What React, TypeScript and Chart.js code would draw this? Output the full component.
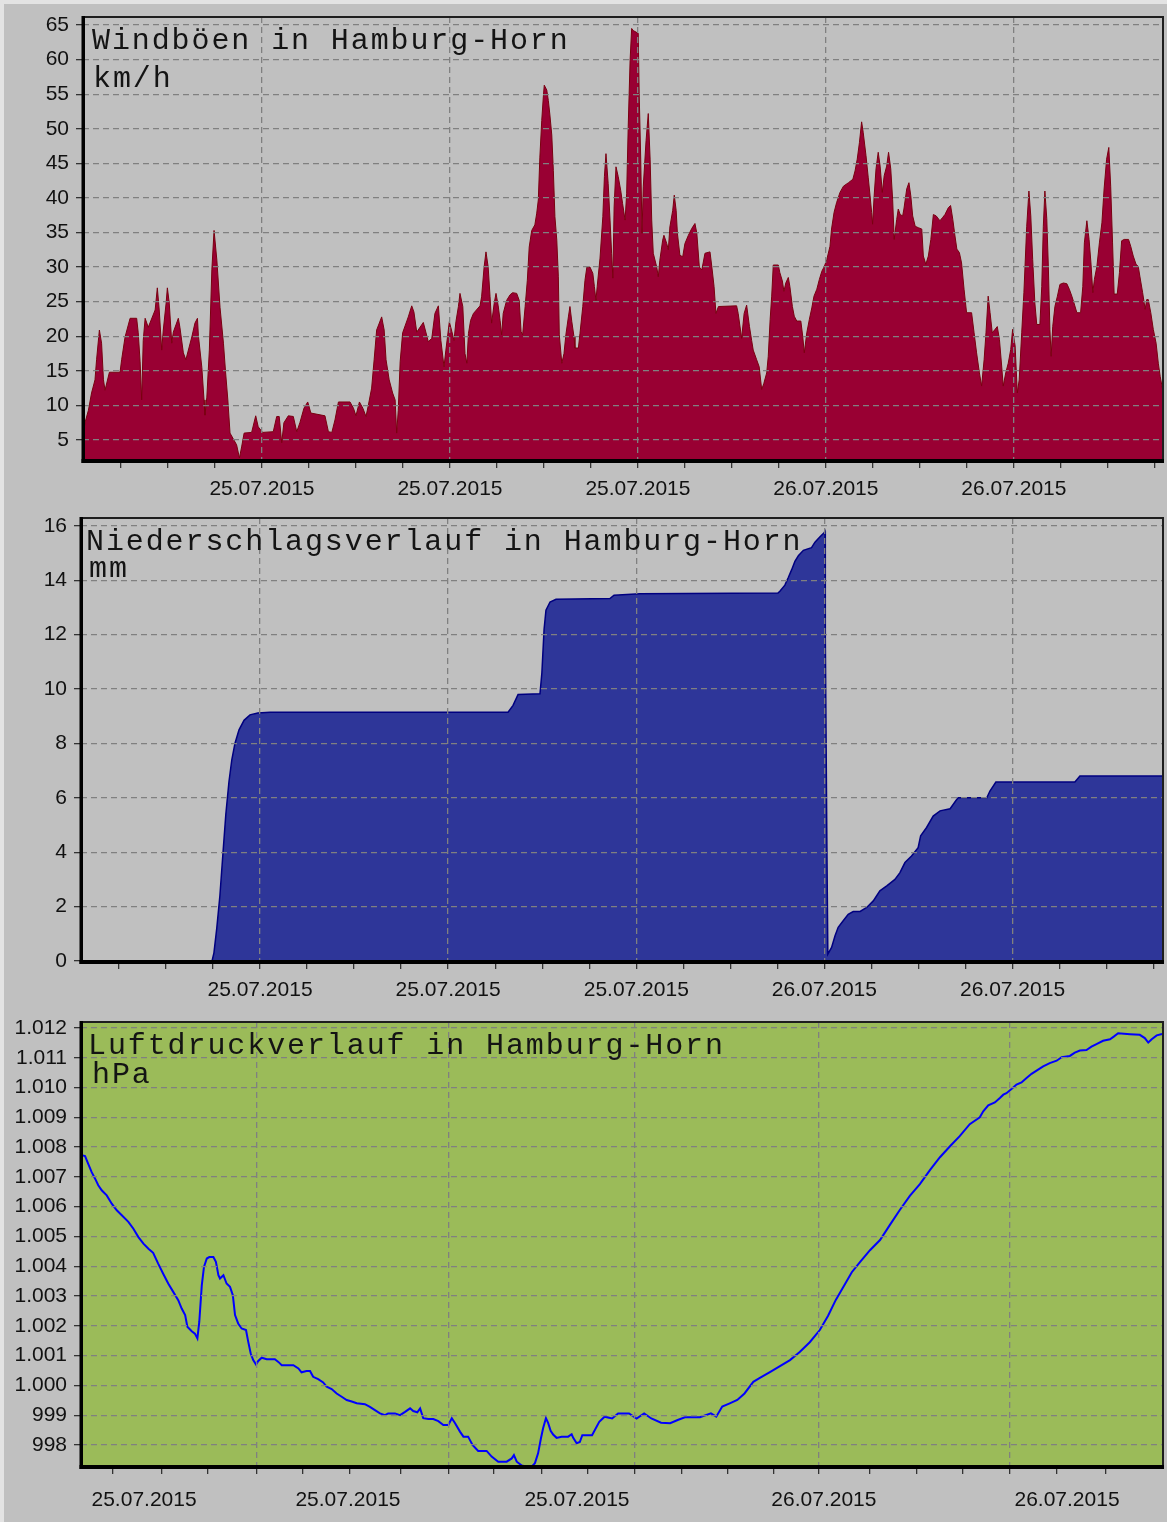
import React, { useEffect, useRef } from 'react';
import { Chart, registerables } from 'chart.js';

Chart.register(...registerables);

// ---------- data (x = hours since 25.07.2015 00:00) ----------
const windGusts: [number, number][] = [
  [0.29,5.5],[0.35,7.5],[0.46,9.3],[0.56,11.8],[0.67,13.7],[0.72,16.6],[0.81,20.9],[0.88,19],[0.94,13.7],[0.99,12.2],
  [1.13,14.8],[1.47,14.8],[1.52,16.6],[1.63,19.9],[1.79,22.6],[2.00,22.6],[2.05,20.5],[2.11,16.3],[2.16,10.8],[2.21,19.4],
  [2.27,22.6],[2.37,21.3],[2.59,23.8],[2.66,27],[2.72,23.8],[2.80,18],[2.85,20.9],[2.94,24.8],[2.98,27],[3.04,24.8],
  [3.12,19],[3.17,20.6],[3.33,22.6],[3.38,21.3],[3.49,17.6],[3.57,16.6],[3.76,19.9],[3.86,21.9],[3.94,22.6],[3.97,20.1],
  [4.08,15.5],[4.15,10.8],[4.18,8.6],[4.24,11.2],[4.32,18],[4.40,29.6],[4.47,35.3],[4.56,31],[4.66,24.2],[4.77,19],
  [4.84,14.7],[4.91,10.8],[4.98,6],[5.19,4.3],[5.28,2.4],[5.35,4],[5.43,6],[5.67,6.1],[5.80,8.5],[5.88,6.9],
  [6.02,6.1],[6.36,6.2],[6.47,8.4],[6.55,8.4],[6.63,4.6],[6.70,7.5],[6.84,8.5],[7.00,8.4],[7.11,6.2],[7.21,7.5],
  [7.34,9.6],[7.46,10.5],[7.56,8.9],[8.01,8.5],[8.12,6.2],[8.23,6.1],[8.33,7.9],[8.44,10.5],[8.81,10.5],[8.92,9.6],
  [9.00,8.5],[9.11,10.5],[9.22,9.6],[9.32,8.4],[9.39,9.9],[9.50,12.5],[9.58,16.6],[9.66,20.9],[9.82,22.8],[9.90,20.9],
  [9.96,16.6],[10.06,13.7],[10.17,11.8],[10.25,10.8],[10.30,6],[10.35,9.3],[10.41,16.3],[10.49,20.5],[10.67,22.8],[10.78,24.4],
  [10.85,23.5],[10.94,20.6],[11.15,22],[11.31,19.2],[11.42,19.7],[11.52,23.3],[11.63,24.4],[11.71,19.4],[11.81,15.6],[11.87,18],
  [11.98,22.1],[12.06,20.7],[12.13,19.4],[12.19,22.1],[12.27,24.3],[12.32,26.2],[12.41,24.3],[12.48,17.5],[12.54,16.1],[12.59,20.4],
  [12.66,22.3],[12.75,23.3],[12.96,24.4],[13.01,25.7],[13.09,30],[13.15,32.2],[13.22,30],[13.28,25.7],[13.33,21.9],[13.41,24.7],
  [13.47,26.2],[13.54,24.4],[13.60,22.3],[13.65,20.2],[13.70,23.3],[13.81,25.2],[13.92,26],[14.00,26.3],[14.13,26.2],[14.21,25.2],
  [14.27,20.7],[14.32,20.2],[14.40,24.3],[14.47,28.1],[14.53,32.9],[14.61,35.3],[14.71,36.1],[14.77,37.8],[14.82,39.7],[14.87,45.9],
  [14.93,51.2],[14.98,54.6],[15.01,56.3],[15.09,55.6],[15.14,54.1],[15.19,52],[15.25,49.1],[15.30,44],[15.35,37.3],[15.41,33.9],
  [15.46,28.6],[15.49,20.2],[15.57,16.1],[15.64,17.5],[15.70,20.2],[15.78,22.8],[15.83,24.3],[15.89,22.1],[15.96,19.9],[15.99,18.3],
  [16.10,18.3],[16.15,20.4],[16.24,24.3],[16.31,28.1],[16.37,30],[16.47,30],[16.56,29.1],[16.61,27.2],[16.66,25.2],[16.70,27.2],
  [16.79,31.3],[16.88,37.3],[16.93,43.1],[16.98,46.4],[17.05,42.1],[17.11,36.8],[17.16,32],[17.20,28.4],[17.24,38.7],[17.30,44.5],
  [17.37,43.1],[17.45,41.1],[17.51,39.2],[17.59,36.8],[17.64,40.6],[17.69,50.3],[17.75,59.9],[17.80,64.5],[17.85,64.2],[18.01,63.8],
  [18.04,55.1],[18.09,45.5],[18.13,34.9],[18.17,41.6],[18.26,48.3],[18.33,52.2],[18.39,45.5],[18.44,36.8],[18.49,32],[18.60,30],
  [18.65,28.6],[18.70,31],[18.79,33.9],[18.83,34.6],[18.92,33.4],[18.97,32.5],[19.02,35.8],[19.11,38.2],[19.16,40.4],[19.22,38.2],
  [19.26,34.9],[19.34,31.7],[19.43,31.5],[19.50,33.4],[19.61,34.6],[19.72,35.6],[19.82,36.3],[19.88,34.9],[19.96,30],[20.04,29.6],
  [20.14,32],[20.30,32.2],[20.36,30],[20.43,27.2],[20.49,23.3],[20.57,24.3],[21.15,24.4],[21.20,23.3],[21.31,19.7],[21.39,23.3],
  [21.47,24.5],[21.56,21.4],[21.63,19.4],[21.68,18],[21.79,16.6],[21.87,15.6],[21.95,12.3],[22.02,13.2],[22.11,14.7],[22.16,17.1],
  [22.22,22.4],[22.27,25.8],[22.32,30.3],[22.48,30.3],[22.53,29.2],[22.61,28],[22.66,26.5],[22.72,27.7],[22.80,28.5],[22.85,27.2],
  [22.93,24.3],[22.99,22.9],[23.07,22.2],[23.20,22.2],[23.26,20],[23.31,17.6],[23.39,20.5],[23.47,22.4],[23.55,24.1],[23.62,25.8],
  [23.71,26.8],[23.79,28.2],[23.87,29.4],[23.95,30.1],[24.03,31.1],[24.13,33],[24.18,35.5],[24.26,37.9],[24.34,39.3],[24.45,40.8],
  [24.56,41.7],[24.72,42.2],[24.86,42.7],[24.93,43.9],[25.00,45.6],[25.07,48],[25.14,51],[25.19,49.5],[25.28,46.1],[25.35,43],
  [25.41,40.3],[25.46,37.9],[25.49,36.2],[25.54,40.3],[25.60,44.2],[25.67,46.6],[25.73,44.6],[25.80,40.8],[25.86,43.2],[25.94,44.6],
  [26.00,46.6],[26.07,44.2],[26.13,39.8],[26.18,34],[26.26,36.9],[26.31,38.4],[26.37,37.6],[26.45,37.4],[26.49,38.4],[26.58,41.3],
  [26.65,42.2],[26.71,40.3],[26.77,37.4],[26.85,35.9],[26.95,35.7],[27.06,35.5],[27.11,31.6],[27.19,30.4],[27.27,31.6],[27.35,34],
  [27.43,37.6],[27.52,37.4],[27.64,36.7],[27.73,37.2],[27.80,37.6],[27.91,38.6],[27.98,38.9],[28.05,36.9],[28.12,34.5],[28.18,32.6],
  [28.26,32.1],[28.33,30.6],[28.41,26.8],[28.49,23.4],[28.65,23.4],[28.73,20.5],[28.81,17.6],[28.90,14.7],[28.97,12.8],[29.05,16.6],
  [29.11,20.5],[29.18,25.8],[29.24,23.4],[29.31,20.5],[29.40,21],[29.47,21.4],[29.54,19.5],[29.61,15.7],[29.66,12.8],[29.74,14.7],
  [29.82,16.1],[29.90,18.1],[29.96,21],[30.04,18.6],[30.11,11.8],[30.17,13.7],[30.25,20.5],[30.32,26.3],[30.41,35.9],[30.48,41],
  [30.54,37.4],[30.60,31.1],[30.67,24.8],[30.73,21.7],[30.83,21.7],[30.89,27.2],[30.94,35.9],[30.99,41],[31.05,37],[31.10,30.1],
  [31.15,21],[31.19,17.1],[31.24,21.4],[31.31,24.3],[31.39,25.8],[31.47,27.5],[31.58,27.7],[31.69,27.6],[31.77,26.8],[31.85,25.8],
  [31.92,24.8],[32.01,23.4],[32.13,23.4],[32.20,27.2],[32.25,33.5],[32.33,36.7],[32.40,34],[32.46,30.6],[32.52,26.3],[32.57,28.2],
  [32.65,30.1],[32.73,33.5],[32.81,36.4],[32.88,41.3],[32.96,45.6],[33.03,47.3],[33.09,41.7],[33.15,33.5],[33.20,26.1],[33.30,26.1],
  [33.37,29.2],[33.44,33.8],[33.52,34],[33.66,34],[33.73,33],[33.81,31.6],[33.90,30.4],[33.97,30.1],[34.02,28.7],[34.11,26.3],
  [34.19,23.9],[34.24,25.3],[34.29,25.3],[34.37,23.4],[34.45,21],[34.54,19],[34.61,16.1],[34.67,14.2],[34.76,12]
];

const rainTotal: [number, number][] = [
  [0.29,0],[4.47,0],[4.53,0.3],[4.62,1.2],[4.72,2.4],[4.82,4.0],[4.91,5.4],[5.01,6.6],[5.10,7.4],[5.20,8.0],
  [5.33,8.5],[5.49,8.85],[5.68,9.05],[5.93,9.12],[6.32,9.15],[13.91,9.15],[14.07,9.4],[14.23,9.8],[14.93,9.83],[14.99,10.6],
  [15.06,12.2],[15.12,12.9],[15.25,13.2],[15.44,13.3],[17.16,13.33],[17.29,13.45],[18.12,13.5],[22.52,13.53],[22.58,13.6],[22.74,13.82],
  [22.85,14.1],[22.96,14.4],[23.06,14.7],[23.17,14.9],[23.33,15.1],[23.59,15.2],[23.70,15.4],[23.86,15.6],[23.99,15.75],[24.02,15.8],
  [24.03,11.9],[24.08,4.2],[24.11,0.25],[24.23,0.5],[24.34,0.93],[24.44,1.24],[24.60,1.48],[24.76,1.72],[24.92,1.82],[25.14,1.82],
  [25.35,1.97],[25.56,2.21],[25.77,2.58],[25.99,2.76],[26.25,3.0],[26.41,3.25],[26.57,3.62],[26.78,3.86],[26.99,4.17],[27.07,4.6],
  [27.26,4.91],[27.47,5.33],[27.69,5.52],[28.01,5.6],[28.22,5.94],[28.27,6.0],[29.18,6.0],[29.28,6.25],[29.47,6.58],[31.99,6.58],
  [32.15,6.8],[34.80,6.8]
];

const pressure: [number, number][] = [
  [0.39,1007.74],[0.52,1007.7],[0.62,1007.44],[0.73,1007.16],[0.84,1006.94],[0.94,1006.72],[1.05,1006.55],[1.21,1006.38],[1.37,1006.1],[1.53,1005.88],
  [1.69,1005.71],[1.90,1005.49],[2.06,1005.26],[2.22,1004.98],[2.38,1004.76],[2.54,1004.59],[2.69,1004.45],[2.85,1004.09],[3.01,1003.75],[3.17,1003.42],
  [3.33,1003.14],[3.49,1002.86],[3.60,1002.58],[3.71,1002.36],[3.78,1001.97],[3.92,1001.82],[4.02,1001.74],[4.10,1001.58],[4.16,1002.13],[4.24,1003.36],
  [4.31,1003.98],[4.40,1004.26],[4.48,1004.31],[4.61,1004.31],[4.69,1004.15],[4.77,1003.7],[4.82,1003.59],[4.93,1003.7],[5.03,1003.42],[5.14,1003.31],
  [5.23,1003.03],[5.30,1002.36],[5.40,1002.08],[5.51,1001.91],[5.65,1001.86],[5.72,1001.47],[5.80,1001.07],[5.88,1000.85],[5.97,1000.7],[6.04,1000.82],
  [6.15,1000.93],[6.31,1000.88],[6.57,1000.88],[6.68,1000.79],[6.79,1000.68],[7.16,1000.68],[7.32,1000.57],[7.42,1000.44],[7.58,1000.48],[7.69,1000.48],
  [7.79,1000.29],[7.95,1000.21],[8.11,1000.1],[8.22,999.96],[8.38,999.88],[8.54,999.73],[8.70,999.62],[8.86,999.51],[9.02,999.46],[9.18,999.4],
  [9.44,999.37],[9.60,999.28],[9.76,999.17],[9.92,999.06],[10.08,999.0],[10.18,999.06],[10.40,999.06],[10.56,999.0],[10.72,999.11],[10.88,999.23],
  [10.98,999.14],[11.11,999.1],[11.20,999.23],[11.30,998.9],[11.46,998.87],[11.62,998.87],[11.78,998.8],[11.94,998.67],[12.10,998.67],[12.21,998.9],
  [12.31,998.74],[12.47,998.45],[12.58,998.28],[12.73,998.28],[12.87,998.0],[13.05,997.8],[13.32,997.8],[13.48,997.61],[13.69,997.44],[13.96,997.44],
  [14.12,997.55],[14.19,997.66],[14.28,997.44],[14.44,997.31],[14.60,997.27],[14.75,997.27],[14.86,997.39],[14.96,997.72],[15.05,998.22],[15.12,998.56],
  [15.21,998.9],[15.28,998.74],[15.36,998.48],[15.44,998.35],[15.55,998.24],[15.71,998.28],[15.92,998.28],[16.03,998.36],[16.08,998.24],[16.19,998.06],
  [16.29,998.1],[16.37,998.33],[16.68,998.33],[16.91,998.78],[17.08,998.95],[17.32,998.89],[17.51,999.06],[17.86,999.06],[18.10,998.89],[18.34,999.06],
  [18.57,998.89],[18.88,998.75],[19.17,998.73],[19.41,998.84],[19.64,998.93],[20.12,998.93],[20.47,999.06],[20.64,998.95],[20.83,999.29],[21.07,999.4],
  [21.31,999.51],[21.54,999.73],[21.82,1000.12],[22.03,1000.25],[22.35,1000.45],[22.67,1000.65],[22.99,1000.85],[23.30,1001.12],[23.62,1001.45],[23.94,1001.86],
  [24.20,1002.33],[24.45,1002.87],[24.74,1003.4],[24.96,1003.8],[25.22,1004.14],[25.54,1004.54],[25.86,1004.88],[26.17,1005.38],[26.49,1005.89],[26.81,1006.36],
  [27.13,1006.76],[27.45,1007.23],[27.77,1007.66],[28.09,1008.03],[28.40,1008.37],[28.72,1008.77],[29.04,1009.0],[29.15,1009.2],[29.31,1009.4],[29.52,1009.5],
  [29.68,1009.65],[29.79,1009.76],[29.89,1009.81],[30.05,1009.95],[30.21,1010.1],[30.37,1010.17],[30.53,1010.32],[30.69,1010.46],[30.85,1010.57],[31.06,1010.71],
  [31.27,1010.82],[31.49,1010.9],[31.65,1011.02],[31.91,1011.06],[32.07,1011.17],[32.23,1011.24],[32.44,1011.26],[32.60,1011.37],[32.76,1011.46],[32.97,1011.57],
  [33.19,1011.62],[33.31,1011.71],[33.45,1011.82],[33.83,1011.79],[34.14,1011.77],[34.30,1011.66],[34.41,1011.51],[34.52,1011.62],[34.68,1011.75],[34.85,1011.8]
];

// ---------- ticks ----------
const windTicks = [5, 10, 15, 20, 25, 30, 35, 40, 45, 50, 55, 60, 65];
const rainTicks = [0, 2, 4, 6, 8, 10, 12, 14, 16];
const pressureTicks = [998, 999, 1000, 1001, 1002, 1003, 1004, 1005, 1006, 1007, 1008, 1009, 1010, 1011, 1012];
const pressureTickLabels = ['998', '999', '1.000', '1.001', '1.002', '1.003', '1.004', '1.005', '1.006', '1.007', '1.008', '1.009', '1.010', '1.011', '1.012'];

const minorHours = [1.5, 3, 4.5, 6, 7.5, 9, 10.5, 12, 13.5, 15, 16.5, 18, 19.5, 21, 22.5, 24, 25.5, 27, 28.5, 30, 31.5, 33, 34.5];
const majorHours = [6, 12, 18, 24, 30];
const dateLabels = ['25.07.2015', '25.07.2015', '25.07.2015', '26.07.2015', '26.07.2015'];

const pressureTickHours = [1.41, 2.97, 4.44, 6, 7.47, 8.96, 10.59, 12.12, 13.55, 15.08, 16.55, 18.05, 19.55, 21.01, 22.48, 23.91, 25.54, 27.04, 28.5, 30, 31.5, 33.06];
const pressureGridHours = [6, 12.12, 18.05, 23.91, 30];
const pressureLabelHours = [2.4, 8.9, 16.2, 24.07, 31.82];

// ---------- styling ----------
const tickFont = { family: '"Liberation Sans", Arial, sans-serif', size: 21 };
const titleFont = '30px "Liberation Mono", "Courier New", monospace';
const GRID = '#808080';
const DASH = [6, 4];

function framePlugin(bg: string, title: string, unit: string, tdx: number, tdy: number, udx: number, udy: number) {
  return {
    id: 'frame',
    beforeDraw(chart: any) {
      const { ctx, chartArea: a } = chart;
      ctx.save();
      ctx.fillStyle = bg;
      ctx.fillRect(a.left, a.top, a.right - a.left, a.bottom - a.top);
      ctx.restore();
    },
    afterDraw(chart: any) {
      const { ctx, chartArea: a } = chart;
      ctx.save();
      ctx.strokeStyle = '#1e1e1e';
      ctx.lineWidth = 2;
      ctx.beginPath();
      ctx.moveTo(a.left, a.top);
      ctx.lineTo(a.right, a.top);
      ctx.lineTo(a.right, a.bottom);
      ctx.stroke();
      ctx.fillStyle = '#000';
      ctx.fillRect(a.left - 1.5, a.top - 1, 3.5, a.bottom - a.top + 4);
      ctx.fillRect(a.left - 1.5, a.bottom - 1, a.right - a.left + 2.5, 4);
      ctx.font = titleFont;
      (ctx as any).letterSpacing = '1.9px';
      ctx.fillStyle = '#141414';
      ctx.textBaseline = 'alphabetic';
      ctx.textAlign = 'left';
      ctx.fillText(title, a.left + tdx, a.top + tdy);
      ctx.fillText(unit, a.left + udx, a.top + udy);
      ctx.restore();
    },
  };
}

function xAxis(min: number, max: number, height: number) {
  return {
    type: 'linear', min, max, position: 'bottom',
    afterBuildTicks: (s: any) => { s.ticks = minorHours.map((v) => ({ value: v })); },
    afterFit: (s: any) => { s.height = height; s.paddingLeft = 0; s.paddingRight = 0; },
    ticks: {
      autoSkip: false, maxRotation: 0, minRotation: 0, padding: 9, font: tickFont, color: '#111',
      callback: (v: number) => { const i = majorHours.indexOf(v); return i >= 0 ? dateLabels[i] : ''; },
    },
    grid: {
      z: 1, tickLength: 8, lineWidth: 1.3, tickWidth: 1.3, tickColor: '#333',
      color: (c: any) => (c.tick && majorHours.includes(c.tick.value) ? GRID : 'rgba(0,0,0,0)'),
      borderDash: DASH,
    },
    border: { display: false, dash: DASH },
  };
}

function yAxis(min: number, max: number, width: number, values: number[], labels: string[]) {
  return {
    type: 'linear', min, max, position: 'left',
    afterBuildTicks: (s: any) => { s.ticks = values.map((v) => ({ value: v })); },
    afterFit: (s: any) => { s.width = width; s.paddingTop = 0; s.paddingBottom = 0; },
    ticks: {
      padding: 7, font: tickFont, color: '#111',
      callback: (v: number) => { const i = values.indexOf(v); return i >= 0 ? labels[i] : ''; },
    },
    grid: { z: 1, tickLength: 7, lineWidth: 1.3, tickWidth: 1.3, tickColor: '#333', color: GRID, borderDash: DASH },
    border: { display: false, dash: DASH },
  };
}

const baseOptions = {
  responsive: false,
  animation: false,
  events: [],
  plugins: { legend: { display: false }, tooltip: { enabled: false } },
};

function windConfig(): any {
  return {
    type: 'line',
    data: {
      datasets: [{
        data: windGusts.map(([x, y]) => ({ x, y })),
        borderColor: '#7a0010', borderWidth: 1, backgroundColor: '#990033',
        fill: 'start', pointRadius: 0, tension: 0,
      }],
    },
    options: {
      ...baseOptions,
      layout: { padding: { top: 17, left: 0, right: 4, bottom: 0 } },
      scales: {
        x: xAxis(0.287, 34.76, 45),
        y: yAxis(2.11, 66.16, 83, windTicks, windTicks.map(String)),
      },
    },
    plugins: [framePlugin('#c0c0c0', 'Windböen in Hamburg-Horn', 'km/h', 9, 32, 10, 70)],
  };
}

function rainConfig(): any {
  return {
    type: 'line',
    data: {
      datasets: [{
        data: rainTotal.map(([x, y]) => ({ x, y })),
        borderColor: '#000080', borderWidth: 1.5, backgroundColor: '#2e3699',
        fill: 'start', pointRadius: 0, tension: 0,
      }],
    },
    options: {
      ...baseOptions,
      layout: { padding: { top: 13, left: 0, right: 4, bottom: 0 } },
      scales: {
        x: xAxis(0.29, 34.8, 49),
        y: yAxis(0, 16.29, 81, rainTicks, rainTicks.map(String)),
      },
    },
    plugins: [framePlugin('#c0c0c0', 'Niederschlagsverlauf in Hamburg-Horn', 'mm', 5, 32, 8, 59)],
  };
}

function pressureConfig(): any {
  return {
    type: 'line',
    data: {
      datasets: [{
        data: pressure.map(([x, y]) => ({ x, y })),
        xAxisID: 'x', yAxisID: 'y',
        borderColor: '#0000ff', borderWidth: 2, fill: false, pointRadius: 0, tension: 0,
      }],
    },
    options: {
      ...baseOptions,
      layout: { padding: { top: 12, left: 0, right: 4, bottom: 0 } },
      scales: {
        x: {
          type: 'linear', axis: 'x', min: 0.39, max: 34.88, position: 'bottom', weight: 0,
          afterBuildTicks: (s: any) => { s.ticks = pressureTickHours.map((v) => ({ value: v })); },
          afterFit: (s: any) => { s.height = 10; s.paddingLeft = 0; s.paddingRight = 0; },
          ticks: { autoSkip: false, maxRotation: 0, minRotation: 0, padding: 0, font: tickFont, callback: () => '' },
          grid: {
            z: 1, tickLength: 8, lineWidth: 1.3, tickWidth: 1.3, tickColor: '#333',
            color: (c: any) => (c.tick && pressureGridHours.includes(c.tick.value) ? GRID : 'rgba(0,0,0,0)'),
            borderDash: DASH,
          },
          border: { display: false, dash: DASH },
        },
        xl: {
          type: 'linear', axis: 'x', min: 0.39, max: 34.88, position: 'bottom', weight: 1,
          afterBuildTicks: (s: any) => { s.ticks = pressureLabelHours.map((v) => ({ value: v })); },
          afterFit: (s: any) => { s.height = 46; s.paddingLeft = 0; s.paddingRight = 0; },
          ticks: {
            autoSkip: false, maxRotation: 0, minRotation: 0, padding: 12, font: tickFont, color: '#111',
            callback: (v: number) => { const i = pressureLabelHours.indexOf(v); return i >= 0 ? dateLabels[i] : ''; },
          },
          grid: { display: false, drawTicks: false, drawOnChartArea: false },
          border: { display: false },
        },
        y: yAxis(997.295, 1012.2, 81, pressureTicks, pressureTickLabels),
      },
    },
    plugins: [framePlugin('#9bbb59', 'Luftdruckverlauf in Hamburg-Horn', 'hPa', 7, 32, 11, 61)],
  };
}

export default function App() {
  const r1 = useRef<HTMLCanvasElement>(null);
  const r2 = useRef<HTMLCanvasElement>(null);
  const r3 = useRef<HTMLCanvasElement>(null);

  useEffect(() => {
    document.body.style.margin = '0';
    const charts = [
      new Chart(r1.current as HTMLCanvasElement, windConfig()),
      new Chart(r2.current as HTMLCanvasElement, rainConfig()),
      new Chart(r3.current as HTMLCanvasElement, pressureConfig()),
    ];
    return () => charts.forEach((c) => c.destroy());
  }, []);

  const cv = (top: number): React.CSSProperties => ({ position: 'absolute', left: 0, top, display: 'block' });

  return (
    <div style={{ position: 'relative', width: 1167, height: 1522, background: '#e3e3e3', overflow: 'hidden' }}>
      <div style={{ position: 'absolute', left: 4, top: 4, right: 0, bottom: 0, background: '#c0c0c0' }} />
      <canvas ref={r1} width={1167} height={505} style={cv(0)} />
      <canvas ref={r2} width={1167} height={505} style={cv(505)} />
      <canvas ref={r3} width={1167} height={512} style={cv(1010)} />
    </div>
  );
}
